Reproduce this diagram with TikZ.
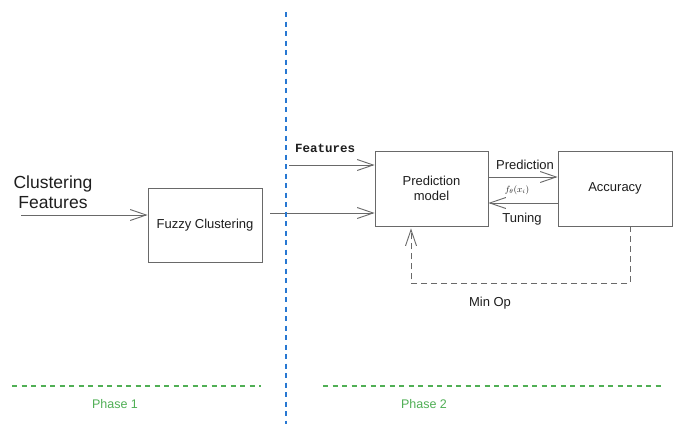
\documentclass[tikz,border=0pt]{standalone}
\usepackage{fontspec}
\setmainfont{Liberation Sans}
\newfontfamily\monofont{Liberation Mono}
\usetikzlibrary{arrows.meta,calc}
\definecolor{linegray}{RGB}{105,105,105}
\definecolor{txt}{RGB}{30,30,30}
\definecolor{phaseblue}{RGB}{40,120,210}
\definecolor{phasegreen}{RGB}{80,175,85}
\begin{document}
\begin{tikzpicture}[x=1pt,y=-1pt,
  box/.style={draw=linegray,line width=0.9pt,rectangle,inner sep=0pt,text=txt,align=center,font=\fontsize{13}{15}\selectfont},
  lbl/.style={text=txt,inner sep=0pt,font=\fontsize{13}{15}\selectfont},
  conn/.style={draw=linegray,line width=0.9pt,-{Straight Barb[length=16pt,width=11pt,line width=0.9pt]}},
  phaselbl/.style={text=phasegreen,inner sep=0pt,font=\fontsize{12.5}{15}\selectfont},
  sep/.style={line width=1.5pt,dash pattern=on 5pt off 4.5pt}]
\useasboundingbox (0,0) rectangle (676,424);
\fill[white] (0,0) rectangle (676,424);

% boxes
\node[box,minimum width=114pt,minimum height=74pt] (fuzzy) at (205,225) {Fuzzy Clustering};
\node[box,minimum width=113pt,minimum height=75pt] (pred) at (431.5,188.5) {Prediction\\model};
\node[box,minimum width=114pt,minimum height=75pt] (acc) at (615,188.5) {Accuracy};

% labels
\node[text=txt,inner sep=0pt,align=center,font=\fontsize{17.5}{20}\selectfont] (cf) at (53,192) {Clustering\\Features};
\node[text=txt,inner sep=0pt,font=\monofont\bfseries\fontsize{12.5}{15}\selectfont] (feat) at (325,148) {Features};
\node[lbl] (predlbl) at (525,165) {Prediction};
\node[lbl] (tunlbl) at (522,219) {Tuning};
\node[text=txt,inner sep=0pt,font=\fontsize{9}{10}\selectfont] (flbl) at (517,190) {$f_\theta(x_i)$};
\node[lbl] (minop) at (490,303) {Min Op};
\node[phaselbl] (ph1) at (115,404) {Phase 1};
\node[phaselbl] (ph2) at (424,404) {Phase 2};

% coordinates for free ends
\coordinate (cfstart) at (21,215);
\coordinate (featstart) at (289,165);
\coordinate (fzstart) at (270,213);

% connectors
\draw[conn] (cfstart) -- (fuzzy.west |- cfstart);
\draw[conn] (featstart) -- (pred.west |- featstart);
\draw[conn] (fzstart) -- (pred.west |- fzstart);
\draw[conn] ([yshift=11.5pt]pred.east) -- ([yshift=11.5pt]acc.west);
\draw[conn] ([yshift=-14.5pt]acc.west) -- ([yshift=-14.5pt]pred.east);
\draw[conn,dash pattern=on 6pt off 4pt] ([xshift=15pt]acc.south) -- ++(0,57) -| ([xshift=-20.5pt,yshift=-2pt]pred.south);

% phase separators
\draw[sep,phaseblue] (286,12) -- (286,424);
\draw[sep,phasegreen] (12,386) -- (261,386);
\draw[sep,phasegreen] (323,386) -- (664,386);
\end{tikzpicture}
\end{document}
